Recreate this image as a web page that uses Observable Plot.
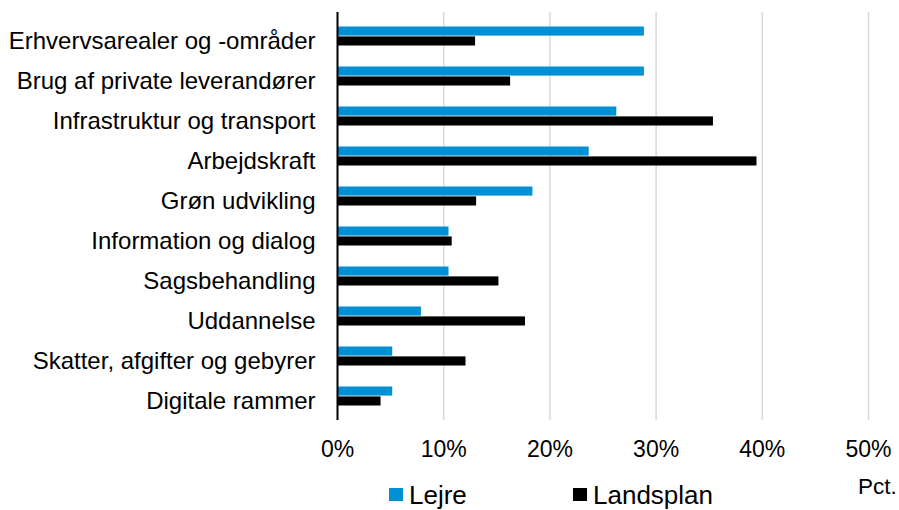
<!DOCTYPE html>
<html>
<head>
<meta charset="utf-8">
<script src="https://cdn.jsdelivr.net/npm/d3@7"></script>
<script src="https://cdn.jsdelivr.net/npm/@observablehq/plot@0.6"></script>
<style>
  html, body { margin: 0; padding: 0; background: #fff; }
  #wrap { position: relative; width: 899px; height: 510px; overflow: hidden; font-family: "Liberation Sans", Arial, sans-serif; color: #000; }
  #legend { position: relative; width: 899px; height: 38px; }
  .lg { position: absolute; line-height: 1; white-space: nowrap; }
  .sw { position: absolute; width: 14px; height: 13px; }
</style>
</head>
<body>
<div id="wrap">
  <div id="chart"></div>
  <div id="legend"></div>
</div>
<script>
const categories = [
  "Erhvervsarealer og -områder",
  "Brug af private leverandører",
  "Infrastruktur og transport",
  "Arbejdskraft",
  "Grøn udvikling",
  "Information og dialog",
  "Sagsbehandling",
  "Uddannelse",
  "Skatter, afgifter og gebyrer",
  "Digitale rammer"
];
const seriesNames = ["Lejre", "Landsplan"];
const lejre     = [28.9, 28.9, 26.3, 23.7, 18.4, 10.5, 10.5, 7.9, 5.2, 5.2];
const landsplan = [13.0, 16.3, 35.4, 39.5, 13.1, 10.8, 15.2, 17.7, 12.1, 4.1];
const xTicks = [0, 10, 20, 30, 40, 50];
const axisUnit = "Pct.";
const colors = ["#0091d5", "#000000"];

const lejreData = categories.map((c, i) => ({cat: c, series: seriesNames[0], v: lejre[i]}));
const landsData = categories.map((c, i) => ({cat: c, series: seriesNames[1], v: landsplan[i]}));

const chart = Plot.plot({
  width: 899,
  height: 472,
  marginTop: 12,
  marginBottom: 52,
  marginLeft: 337,
  marginRight: 31,
  style: {fontFamily: "'Liberation Sans', Arial, sans-serif", fontSize: "23px", color: "#000", background: "#fff"},
  x: {domain: [0, 50], label: null},
  y: {domain: categories, padding: 0, label: null},
  marks: [
    Plot.gridX(xTicks.slice(1), {stroke: "#d9d9d9", strokeOpacity: 1, strokeWidth: 1.5}),
    Plot.barX(lejreData, {x: "v", y: "cat", fill: colors[0], insetTop: 10.5, insetBottom: 20.4}),
    Plot.barX(landsData, {x: "v", y: "cat", fill: colors[1], insetTop: 20.4, insetBottom: 10.5}),
    Plot.ruleX([0], {stroke: "#000", strokeWidth: 2}),
    Plot.axisX(xTicks, {tickSize: 0, tickPadding: 20, tickFormat: d => d + "%", label: null, fill: "#000", fontSize: 23}),
    Plot.axisY({tickSize: 0, tickPadding: 22, label: null, fill: "#000", fontSize: 24, dy: 5})
  ]
});
document.getElementById("chart").appendChild(chart);

const legend = document.getElementById("legend");
const items = [
  {name: seriesNames[0], color: colors[0], sx: 389, tx: 409},
  {name: seriesNames[1], color: colors[1], sx: 573, tx: 593}
];
items.forEach(it => {
  const sw = document.createElement("div");
  sw.className = "sw";
  sw.style.left = it.sx + "px";
  sw.style.top = "16px";
  sw.style.background = it.color;
  legend.appendChild(sw);
  const t = document.createElement("div");
  t.className = "lg";
  t.style.left = it.tx + "px";
  t.style.top = "10px";
  t.style.fontSize = "26px";
  t.textContent = it.name;
  legend.appendChild(t);
});
const unit = document.createElement("div");
unit.className = "lg";
unit.style.left = "858px";
unit.style.top = "4px";
unit.style.fontSize = "22.5px";
unit.textContent = axisUnit;
legend.appendChild(unit);
</script>
</body>
</html>
